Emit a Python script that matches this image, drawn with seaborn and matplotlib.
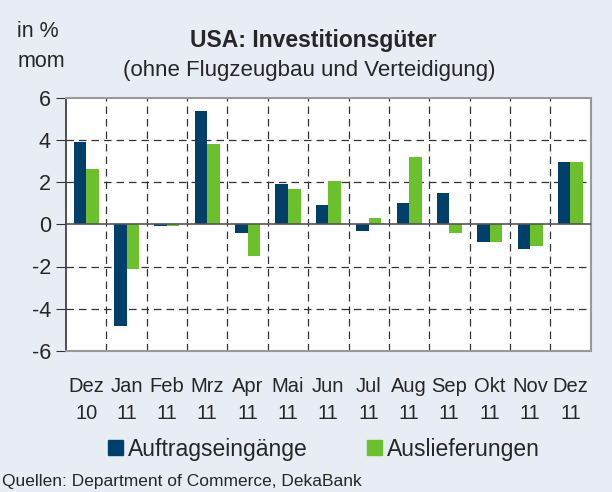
import matplotlib
matplotlib.use("Agg")
import matplotlib.pyplot as plt
import seaborn as sns
import pandas as pd
import numpy as np

months = ["Dez\n10", "Jan\n11", "Feb\n11", "Mrz\n11", "Apr\n11", "Mai\n11", "Jun\n11",
          "Jul\n11", "Aug\n11", "Sep\n11", "Okt\n11", "Nov\n11", "Dez\n11"]
auftrag = [3.9, -4.8, -0.1, 5.4, -0.4, 1.9, 0.9, -0.3, 1.0, 1.5, -0.85, -1.15, 2.95]
auslief = [2.65, -2.1, -0.1, 3.8, -1.5, 1.7, 2.05, 0.3, 3.2, -0.4, -0.85, -1.05, 2.95]
series = ["Auftragseingänge", "Auslieferungen"]
colors = ["#003F6A", "#6BC02B"]

df = pd.DataFrame({
    "month": months * 2,
    "value": auftrag + auslief,
    "series": [series[0]] * len(months) + [series[1]] * len(months),
})

sns.set_style("white")
plt.rcParams["font.family"] = ["Liberation Sans", "DejaVu Sans"]

bg = "#E8ECF5"
fig = plt.figure(figsize=(6.12, 4.92), dpi=100, facecolor=bg)
ax = fig.add_axes([0.108, 0.287, 0.857, 0.514])
ax.set_facecolor("white")

sns.barplot(data=df, x="month", y="value", hue="series", palette=colors,
            order=months, hue_order=series, width=0.62, gap=0, ax=ax,
            saturation=1, legend=True, linewidth=0)

fs = 14.5
ax.set_ylim(-6, 6)
ax.set_xlim(-0.5, len(months) - 0.5)
ax.set_yticks([-6, -4, -2, 0, 2, 4, 6])
ax.set_yticklabels(["-6", "-4", "-2", "0", "2", "4", "6"], fontsize=15.5)
ax.set_xticks(range(len(months)))
ax.set_xticklabels(months, fontsize=fs, linespacing=1.55)
ax.tick_params(axis="x", length=0, pad=19)
ax.tick_params(axis="y", length=7, direction="out", left=True, color="#333333", pad=4)
ax.set_xlabel("")
ax.set_ylabel("")

# grid
for y in [-4, -2, 2, 4]:
    ax.axhline(y, color="#333333", lw=0.9, ls=(0, (6, 4)), zorder=0.5)
for x in np.arange(0.5, len(months) - 0.5, 1):
    ax.axvline(x, color="#333333", lw=0.9, ls=(0, (6, 4)), zorder=0.5)
ax.axhline(0, color="#555555", lw=1.2, zorder=3)

for s in ["top", "right", "bottom"]:
    ax.spines[s].set_color("#999999")
    ax.spines[s].set_linewidth(1.5)
ax.spines["left"].set_color("#333333")
ax.spines["left"].set_linewidth(1.2)

ax.legend_.remove()
handles = [plt.Rectangle((0, 0), 1, 1, color=c) for c in colors]
fig.legend(handles, series, loc="center", bbox_to_anchor=(0.529, 0.087), ncol=2,
           frameon=False, fontsize=16.5, handlelength=0.65, handleheight=0.65,
           handletextpad=0.22, columnspacing=2.6)

fig.text(0.512, 0.918, "USA: Investitionsgüter", ha="center", va="center",
         fontsize=16.5, fontweight="bold")
fig.text(0.506, 0.857, "(ohne Flugzeugbau und Verteidigung)", ha="center", va="center",
         fontsize=16)
fig.text(0.028, 0.905, "in %\nmom", ha="left", va="center", fontsize=15.5, linespacing=1.55)
fig.text(0.004, 0.006, "Quellen: Department of Commerce, DekaBank", ha="left",
         va="bottom", fontsize=12.5)

fig.savefig("out.png", dpi=100, facecolor=bg)
